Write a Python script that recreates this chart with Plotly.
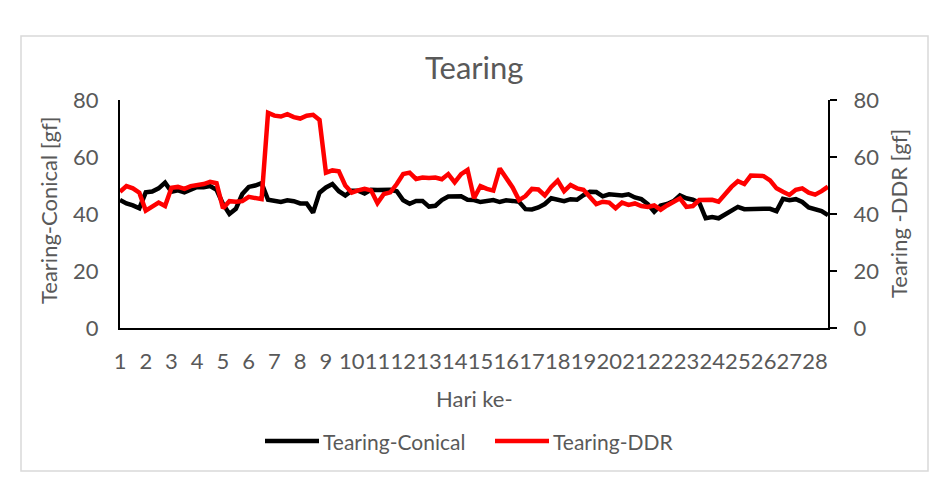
import plotly.graph_objects as go

# ---- data ----
days = [str(d) for d in range(1, 29)]
pts_per_day = 4

conical = [44.9, 43.7, 43.0, 42.0, 47.6, 47.9, 49.0, 51.0, 47.8, 48.3,
           47.6, 48.5, 49.5, 49.4, 49.8, 48.5, 43.5, 40.0, 41.8, 47.0,
           49.5, 50.0, 50.8, 45.0, 44.5, 44.2, 44.8, 44.5, 43.7, 43.7,
           40.5, 47.5, 49.3, 50.5, 48.0, 46.5, 48.2, 48.2, 47.2, 48.5,
           48.4, 48.3, 48.5, 48.0, 44.8, 43.6, 44.6, 44.6, 42.6, 42.9,
           44.9, 46.1, 46.0, 46.2, 45.0, 44.9, 44.2, 44.6, 44.9, 44.2,
           44.8, 44.6, 44.3, 41.7, 41.6, 42.3, 43.5, 45.5, 45.0, 44.5,
           45.2, 45.0, 46.6, 47.8, 47.7, 46.2, 46.9, 46.8, 46.5, 46.9,
           45.8, 45.2, 43.5, 40.8, 43.0, 43.5, 44.5, 46.5, 45.5, 45.0,
           44.0, 38.5, 38.9, 38.5, 39.8, 41.0, 42.5, 41.7, 41.8, 42.0,
           41.8, 41.8, 41.0, 45.3, 44.8, 45.2, 44.2, 42.3, 41.5, 41.0,
           39.6]

ddr = [47.8, 49.8, 49.0, 47.5, 41.2, 42.5, 44.0, 42.8, 49.2, 49.5,
       48.8, 49.8, 50.0, 50.5, 51.3, 50.8, 42.0, 44.5, 44.3, 44.5,
       46.0, 45.5, 45.2, 75.5, 74.5, 74.2, 75.0, 74.0, 73.5, 74.5,
       74.8, 73.0, 54.5, 55.3, 55.0, 50.0, 47.5, 48.3, 48.8, 48.3,
       43.8, 47.0, 47.6, 50.5, 54.0, 54.5, 52.3, 52.8, 52.6, 52.8,
       52.2, 54.0, 51.1, 54.0, 55.5, 45.5, 49.8, 48.8, 48.2, 56.0,
       52.5, 49.3, 44.9, 46.3, 48.8, 48.6, 46.5, 49.5, 51.7, 48.0,
       50.2, 49.0, 48.5, 46.0, 43.5, 44.3, 44.0, 42.0, 44.0, 43.2,
       43.7, 42.8, 42.5, 43.0, 41.5, 43.0, 44.3, 45.5, 42.5, 42.8,
       44.9, 45.0, 45.0, 44.3, 47.0, 49.5, 51.5, 50.5, 53.5, 53.3,
       53.3, 51.8, 49.0, 47.8, 46.7, 48.5, 49.0, 47.5, 46.8, 48.0,
       49.6]

y_ticks = [0, 20, 40, 60, 80]

FONT = "Lato"
GREY = "#595959"

# ---- geometry helpers (pixels -> paper) ----
L, R, T, B = 120, 828, 100, 328
W, H = 943, 490
def px(x):
    return (x - L) / (R - L)
def py(y):
    return (B - y) / (B - T)

x_idx = list(range(len(conical)))
tickvals = [i * pts_per_day for i in range(len(days))]

fig = go.Figure()
fig.add_trace(go.Scatter(x=x_idx, y=conical, mode="lines", name="Tearing-Conical",
                         line=dict(color="#000000", width=4.5), yaxis="y"))
fig.add_trace(go.Scatter(x=x_idx, y=ddr, mode="lines", name="Tearing-DDR",
                         line=dict(color="#ff0000", width=4.5), yaxis="y2"))

fig.update_layout(
    width=W, height=H,
    margin=dict(l=L, r=W - R, t=T, b=H - B, pad=0),
    paper_bgcolor="white", plot_bgcolor="white",
    showlegend=False,
    font=dict(family=FONT, color=GREY, size=22),
    xaxis=dict(range=[0, len(conical) - 1], tickvals=tickvals, ticktext=days,
               tickangle=0, showgrid=False, zeroline=False,
               showline=True, linecolor="#000000", linewidth=2,
               ticks="", ticklabelstandoff=13,
               tickfont=dict(family=FONT, size=22, color=GREY)),
    yaxis=dict(range=[0, 80], tickvals=y_ticks, showgrid=False, zeroline=False,
               showline=True, linecolor="#000000", linewidth=2, ticks="",
               ticklabelstandoff=15,
               tickfont=dict(family=FONT, size=22, color=GREY)),
    yaxis2=dict(range=[0, 80], tickvals=y_ticks, overlaying="y", side="right",
                showgrid=False, zeroline=False,
                showline=True, linecolor="#000000", linewidth=2,
                ticks="outside", ticklen=7, tickwidth=2, tickcolor="#000000",
                ticklabelstandoff=12,
                tickfont=dict(family=FONT, size=22, color=GREY)),
)

# chart border
fig.add_shape(type="rect", xref="paper", yref="paper",
              x0=px(21), x1=px(928), y0=py(471), y1=py(36),
              line=dict(color="#d9d9d9", width=1.5), fillcolor="rgba(0,0,0,0)",
              layer="below")

ann = []
ann.append(dict(text="Tearing", x=px(474), y=py(67), xref="paper", yref="paper",
                showarrow=False, xanchor="center", yanchor="middle",
                font=dict(family=FONT, size=31, color=GREY)))
ann.append(dict(text="Hari ke-", x=px(474), y=py(398), xref="paper", yref="paper",
                showarrow=False, xanchor="center", yanchor="middle",
                font=dict(family=FONT, size=22, color=GREY)))
ann.append(dict(text="Tearing-Conical [gf]", x=px(48), y=py(210), xref="paper", yref="paper",
                showarrow=False, xanchor="center", yanchor="middle", textangle=-90,
                font=dict(family=FONT, size=22, color=GREY)))
ann.append(dict(text="Tearing -DDR [gf]", x=px(898), y=py(214), xref="paper", yref="paper",
                showarrow=False, xanchor="center", yanchor="middle", textangle=-90,
                font=dict(family=FONT, size=22, color=GREY)))

# manual legend
leg = [("Tearing-Conical", "#000000", 265, 319), ("Tearing-DDR", "#ff0000", 495, 549)]
for name, col, x0, x1 in leg:
    fig.add_shape(type="line", xref="paper", yref="paper",
                  x0=px(x0), x1=px(x1), y0=py(441), y1=py(441),
                  line=dict(color=col, width=4.5))
    ann.append(dict(text=name, x=px(x1 + 2), y=py(441), xref="paper", yref="paper",
                    showarrow=False, xanchor="left", yanchor="middle",
                    font=dict(family=FONT, size=21, color=GREY)))

fig.update_layout(annotations=ann)
fig.write_html("out.html")
